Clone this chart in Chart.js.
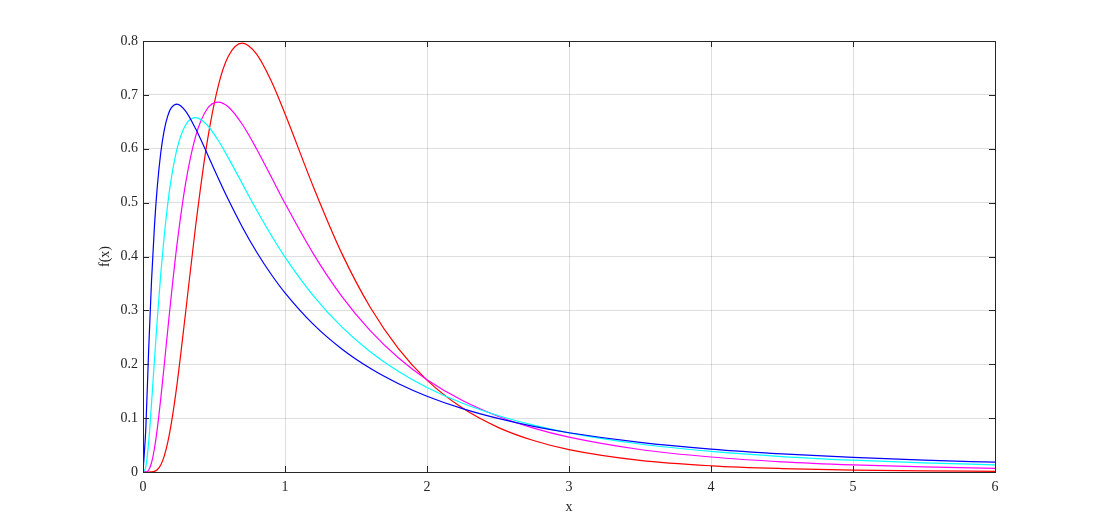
<!DOCTYPE html>
<html>
<head>
<meta charset="utf-8">
<script src="https://cdn.jsdelivr.net/npm/chart.js@4"></script>
<style>
  html, body { margin: 0; padding: 0; background: #fff; }
  #wrap { width: 1101px; height: 530px; position: relative; }
</style>
</head>
<body>
<div id="wrap"><canvas id="chart"></canvas></div>
<script>
// x positions the curves were read at (denser near the origin and the peaks)
const xs = [0, 0.02, 0.04, 0.06, 0.08, 0.1, 0.125, 0.15, 0.175, 0.2, 0.24, 0.3, 0.37, 0.45, 0.53, 0.6, 0.7, 0.8, 0.9, 1.0,
  1.2, 1.4, 1.6, 1.8, 2.0, 2.25, 2.5, 2.75, 3.0, 3.5, 4.0, 4.5, 5.0, 5.5, 6.0];

// one value per x above
const blueVals = [0, 0.0818, 0.2276, 0.3548, 0.4536, 0.5275, 0.5926, 0.6352, 0.6616, 0.6762, 0.6830, 0.6699, 0.6375, 0.5921, 0.5453, 0.5061, 0.4544, 0.4084, 0.3680, 0.3325,
  0.2739, 0.2283, 0.1924, 0.1638, 0.1407, 0.1176, 0.0994, 0.0847, 0.0729, 0.0551, 0.0426, 0.0337, 0.0271, 0.0220, 0.0182];
const cyanVals = [0, 0.0095, 0.0561, 0.1271, 0.2054, 0.2816, 0.3673, 0.4399, 0.4991, 0.5463, 0.6004, 0.6442, 0.6577, 0.6445, 0.6153, 0.5836, 0.5348, 0.4864, 0.4408, 0.3989,
  0.3270, 0.2693, 0.2233, 0.1865, 0.1569, 0.1276, 0.1049, 0.0870, 0.0727, 0.0520, 0.0382, 0.0286, 0.0219, 0.0170, 0.0134];
const magentaVals = [0, 0.0002, 0.0038, 0.0172, 0.0427, 0.0792, 0.1361, 0.1998, 0.2655, 0.3296, 0.4233, 0.5356, 0.6226, 0.6734, 0.6867, 0.6779, 0.6450, 0.5996, 0.5493, 0.4987,
  0.4049, 0.3260, 0.2623, 0.2115, 0.1713, 0.1326, 0.1035, 0.0815, 0.0647, 0.0418, 0.0278, 0.0189, 0.0132, 0.0094, 0.0068];
const redVals = [0, 0, 0, 0.0002, 0.0012, 0.0042, 0.0131, 0.0299, 0.0559, 0.0911, 0.1637, 0.2960, 0.4552, 0.6095, 0.7167, 0.7713, 0.7960, 0.7756, 0.7275, 0.6649,
  0.5291, 0.4058, 0.3058, 0.2286, 0.1706, 0.1186, 0.0829, 0.0584, 0.0415, 0.0215, 0.0115, 0.0064, 0.0036, 0.0021, 0.0013];

const seriesColors = ['#0000ff', '#00ffff', '#ff00ff', '#ff0000'];
const xTicks = [0, 1, 2, 3, 4, 5, 6];
const yTicks = [0, 0.1, 0.2, 0.3, 0.4, 0.5, 0.6, 0.7, 0.8];

const axisColor = '#262626';
const font = { family: "'Liberation Serif', 'Times New Roman', serif", size: 14 };

function toPoints(vals) {
  return xs.map((x, i) => ({ x: x, y: vals[i] }));
}

// MATLAB style box with inward tick marks on all four sides
const boxPlugin = {
  id: 'box',
  afterDraw(chart) {
    const { ctx, chartArea: a, scales } = chart;
    ctx.save();
    ctx.strokeStyle = axisColor;
    ctx.lineWidth = 1;
    ctx.beginPath();
    xTicks.forEach(v => {
      const px = Math.round(scales.x.getPixelForValue(v)) + 0.5;
      ctx.moveTo(px, a.bottom); ctx.lineTo(px, a.bottom - 6);
      ctx.moveTo(px, a.top); ctx.lineTo(px, a.top + 6);
    });
    yTicks.forEach(v => {
      const py = Math.round(scales.y.getPixelForValue(v)) + 0.5;
      ctx.moveTo(a.left, py); ctx.lineTo(a.left + 6, py);
      ctx.moveTo(a.right, py); ctx.lineTo(a.right - 6, py);
    });
    ctx.stroke();
    ctx.strokeRect(Math.round(a.left) + 0.5, Math.round(a.top) + 0.5,
      Math.round(a.right - a.left), Math.round(a.bottom - a.top));
    ctx.restore();
  }
};

new Chart(document.getElementById('chart'), {
  type: 'line',
  data: {
    datasets: [blueVals, cyanVals, magentaVals, redVals].map((vals, i) => ({
      data: toPoints(vals),
      borderColor: seriesColors[i],
      borderWidth: 1.2,
      pointRadius: 0,
      fill: false,
      cubicInterpolationMode: 'monotone'
    }))
  },
  options: {
    responsive: true,
    maintainAspectRatio: false,
    animation: false,
    layout: { padding: { left: 0, right: 106, top: 41, bottom: 0 } },
    plugins: { legend: { display: false }, tooltip: { enabled: false } },
    scales: {
      x: {
        type: 'linear',
        min: 0,
        max: 6,
        afterFit(scale) { scale.height = 58; },
        afterBuildTicks(scale) { scale.ticks = xTicks.map(v => ({ value: v })); },
        ticks: { color: axisColor, font: font, padding: 7 },
        grid: { color: 'rgba(0,0,0,0.13)', drawTicks: false },
        border: { display: false },
        title: { display: true, text: 'x', color: axisColor, font: font, padding: { top: 0, bottom: 14 } }
      },
      y: {
        type: 'linear',
        min: 0,
        max: 0.8,
        afterFit(scale) { scale.width = 143; },
        afterBuildTicks(scale) { scale.ticks = yTicks.map(v => ({ value: v })); },
        ticks: { color: axisColor, font: font, padding: 5, callback: v => String(+v.toFixed(1)) },
        grid: { color: 'rgba(0,0,0,0.13)', drawTicks: false },
        border: { display: false },
        title: { display: true, text: 'f(x)', color: axisColor, font: font, padding: { top: 97, bottom: 0 } }
      }
    }
  },
  plugins: [boxPlugin]
});
</script>
</body>
</html>
